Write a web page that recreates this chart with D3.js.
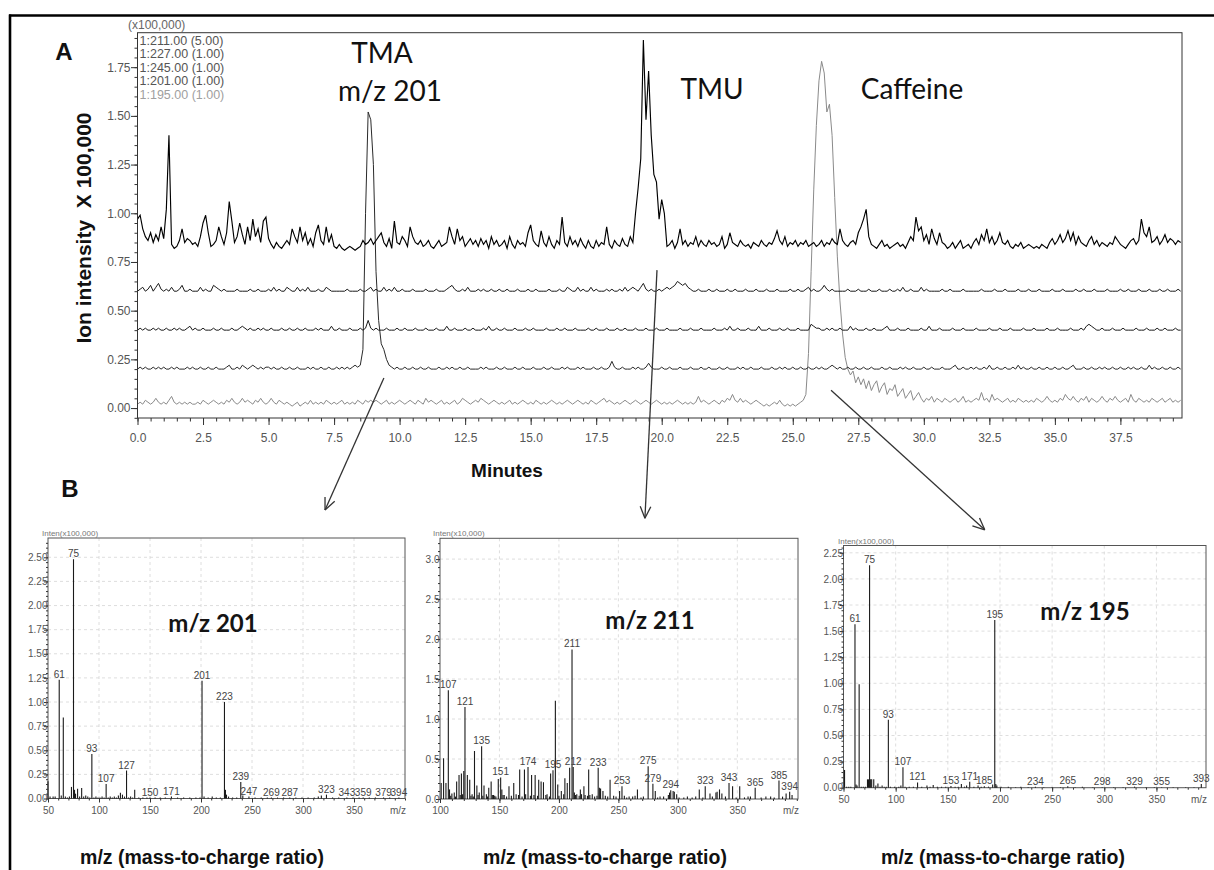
<!DOCTYPE html>
<html><head><meta charset="utf-8">
<script src="https://cdn.jsdelivr.net/npm/d3@7"></script>
<style>body{margin:0;background:#fff}svg text{font-family:"Liberation Sans",Arial,sans-serif}</style>
</head><body><svg id="c" width="1214" height="870"></svg>
<script>
// ---------- Panel A: chromatogram data (intensity in units of 1,000 counts; sampled every 0.1 min from 0) ----------
const chromStart = 0, chromStep = 0.1;
const trace211 = [
97,99,92,88,86,90,85,89,86,93, 87,102,140,84,82,83,86,92,85,87, 86,84,85,83,88,95,99,90,83,84,
86,93,88,84,90,106,96,85,88,95, 89,84,93,86,97,88,92,85,96,98, 87,84,82,85,83,82,84,86,84,92,
88,85,93,86,90,84,87,83,90,94, 86,84,93,85,89,83,82,84,82,81, 82,83,82,81,82,83,86,84,85,87,
84,86,88,90,85,83,87,82,96,85, 84,88,86,83,93,88,85,84,86,83, 84,86,83,82,84,86,83,84,85,93,
88,84,92,86,88,83,85,87,84,86, 83,87,84,86,82,88,84,86,83,84, 86,82,88,84,82,86,84,85,83,90,
94,86,84,83,91,85,83,88,84,82, 86,84,98,85,83,88,84,86,83,87, 84,82,86,83,82,86,83,85,84,93,
84,82,86,84,83,87,84,83,88,85, 100,113,128,189,148,173,140,120,116,97, 107,100,83,84,86,82,85,92,84,86,
83,85,84,88,83,86,84,83,86,84, 85,83,84,88,82,84,90,85,84,83, 86,84,83,84,82,85,84,83,86,84,
83,85,84,87,91,86,84,88,83,85, 84,86,83,85,84,86,83,84,85,83, 84,86,83,85,84,87,85,84,92,86,
84,83,85,86,84,90,93,97,102,88, 84,83,82,84,86,83,84,82,83,84, 85,83,84,82,85,88,86,98,91,93,
86,89,84,92,87,84,90,85,84,82, 83,85,82,84,86,82,83,84,82,85, 87,84,89,86,92,85,88,84,86,90,
85,84,86,83,82,84,83,85,82,83, 84,83,82,83,82,84,83,82,85,87, 84,86,89,85,87,91,86,90,84,88,
85,84,83,86,88,84,86,83,85,84, 83,85,84,88,86,84,83,82,84,86, 87,84,86,97,90,88,93,85,86,88,
84,86,89,85,87,86,84,86,85];
const trace227 = [
60,61,62,60,61,63,60,62,64,61, 60,61,60,62,60,60,61,63,60,60, 61,60,60,60,62,60,61,60,60,63,
62,61,60,61,60,60,60,60,61,60, 60,60,60,61,60,60,61,60,60,60, 61,60,62,60,61,60,60,62,61,60,
60,62,60,61,60,62,60,60,60,61, 60,60,62,61,60,60,60,60,60,60, 61,60,60,60,60,61,60,60,61,62,
60,61,60,60,62,60,61,60,62,60, 60,61,60,60,60,61,60,60,60,60, 61,60,60,60,61,60,60,60,61,62,
63,61,60,60,61,60,62,60,60,60, 61,60,61,60,60,61,60,60,61,60, 60,61,60,60,60,61,60,60,60,61,
60,60,61,60,60,60,60,61,60,60, 60,61,60,60,62,61,60,60,62,60, 61,60,60,62,60,61,60,60,60,61,
60,61,60,60,61,60,62,60,61,62, 61,60,62,64,61,60,61,60,60,61, 60,61,62,61,62,63,65,64,63,64,
62,61,60,60,61,60,60,60,61,60, 60,61,60,60,60,61,60,60,61,60, 60,60,61,60,60,60,61,60,60,60,
61,60,60,60,61,60,60,60,60,61, 60,60,61,60,60,61,62,60,61,60, 60,61,63,61,60,61,60,60,60,60,
60,61,60,60,60,61,60,60,60,61, 60,60,60,61,60,60,60,61,60,60, 61,60,62,60,60,61,60,60,60,62,
60,61,60,60,60,60,60,61,60,60, 61,60,60,60,60,61,60,60,60,60, 60,60,61,60,60,60,60,61,60,60,
60,61,60,60,60,60,61,60,60,60, 61,60,60,60,61,60,60,60,60,61, 60,60,60,61,60,60,60,60,61,60,
60,61,60,60,60,61,60,60,60,60, 61,60,60,60,60,61,60,60,61,60, 60,60,61,60,60,60,61,60,60,60,
61,60,60,61,60,60,60,61,60];
const trace245 = [
40,41,40,41,40,40,41,40,41,40, 40,41,40,40,41,40,41,40,40,41, 42,40,41,40,40,41,40,40,40,41,
40,40,41,40,40,40,41,40,40,41, 42,41,40,41,40,40,41,40,41,40, 40,41,40,40,40,41,40,40,41,40,
40,41,40,40,41,40,40,40,41,40, 41,40,40,40,42,40,40,41,40,40, 40,41,40,40,40,41,40,41,45,41,
40,41,40,40,40,41,40,40,40,41, 40,40,41,40,40,40,41,40,40,40, 41,40,40,40,41,40,40,40,42,40,
40,41,40,40,40,41,40,40,41,40, 40,40,41,40,42,40,40,41,40,40, 41,40,40,40,41,40,40,40,41,40,
40,41,40,40,40,40,41,40,40,40, 41,40,40,41,40,40,40,41,40,40, 40,40,41,40,40,41,40,40,40,41,
40,40,40,41,40,40,41,40,40,40, 41,40,40,40,41,40,40,40,41,40, 40,40,41,40,40,40,40,41,40,40,
40,41,40,40,40,41,40,40,40,40, 41,40,40,40,41,40,42,40,40,41, 40,40,40,41,40,40,40,42,40,40,
40,41,40,40,40,41,40,40,41,40, 40,40,41,40,40,40,40,43,42,41, 41,40,40,41,40,41,40,40,41,40,
40,40,42,40,41,40,40,40,41,40, 40,41,40,40,40,41,42,40,40,40, 41,40,40,40,41,40,40,40,40,41,
40,40,42,40,40,40,41,40,40,40, 40,41,40,40,40,41,40,40,40,40, 41,40,40,40,40,41,40,40,40,41,
40,40,40,41,40,40,40,40,41,40, 40,40,41,40,40,40,40,41,40,40, 40,41,40,40,40,40,41,40,40,40,
41,40,42,43,42,41,40,40,41,40, 40,40,41,40,40,40,41,40,40,40, 40,41,40,40,40,41,40,40,40,41,
40,40,41,40,40,40,41,40,40];
const trace201 = [
20,21,20,21,20,20,21,20,21,20, 21,20,20,21,20,21,20,20,20,21, 20,21,20,20,21,20,20,21,20,20,
21,20,20,20,21,22,20,20,21,20, 22,21,20,21,22,21,20,21,20,21, 21,20,21,20,20,21,20,20,21,20,
20,21,20,20,20,21,20,21,20,20, 21,20,20,21,20,20,21,20,21,20, 21,20,21,22,21,22,30,100,152,148,
125,70,45,33,30,25,22,21,20,21, 20,20,21,20,20,21,20,20,21,20, 20,21,20,20,20,21,20,20,21,20,
21,20,20,21,20,20,21,20,20,20, 20,21,20,21,20,20,20,21,20,20, 21,20,20,20,21,20,20,21,20,20,
20,21,20,20,20,21,20,20,21,20, 20,20,21,20,21,20,20,20,21,20, 21,20,20,20,21,20,20,21,20,20,
21,24,21,20,20,21,20,20,20,21, 20,21,20,20,21,23,21,20,20,20, 21,20,20,21,20,20,20,21,20,20,
20,21,20,20,20,21,20,20,21,20, 20,20,21,20,20,21,20,20,20,21, 20,21,20,20,21,20,20,20,21,20,
20,20,21,20,20,21,20,21,20,20, 21,20,20,21,20,20,21,20,20,21, 20,21,20,20,21,22,21,20,21,20,
20,21,20,20,21,20,20,21,20,20, 21,20,20,20,21,20,20,21,20,20, 20,21,20,21,20,20,21,20,20,20,
21,20,20,21,20,20,20,21,20,20, 20,21,22,20,20,21,20,20,21,20, 21,20,20,21,20,22,20,20,21,20,
20,21,20,20,21,20,22,20,21,20, 20,21,20,20,21,20,20,21,20,20, 21,20,20,21,20,20,21,22,20,20,
20,21,20,20,21,20,20,21,20,21, 20,20,21,20,20,21,20,20,21,20, 21,20,20,21,20,20,22,20,21,20,
20,21,20,20,21,20,20,21,20];
const trace195 = [
2,3,2,4,3,2,3,5,3,2, 3,2,4,6,3,2,3,2,3,2, 3,2,2,3,2,4,3,2,3,4,
3,2,3,2,4,3,5,3,2,3, 5,3,4,3,2,4,3,5,3,2, 3,5,3,2,4,3,2,3,2,1,
2,3,1,2,3,2,4,2,3,2, 3,2,4,3,2,3,2,3,4,2, 3,2,3,2,4,3,2,4,3,4,
3,4,3,2,3,4,2,3,2,3, 4,3,2,3,4,3,2,4,3,2, 5,3,4,3,2,3,4,2,3,2,
3,4,2,3,5,4,3,2,3,4, 3,5,4,3,2,3,4,3,2,3, 2,3,4,2,3,2,3,4,3,2,
3,2,4,3,2,3,2,3,4,3, 2,3,2,3,4,3,2,3,4,3, 2,3,2,4,3,2,3,4,5,3,
4,3,2,3,2,3,4,3,2,3, 4,3,2,3,4,3,2,3,4,3, 2,3,2,3,2,3,4,3,2,3,
2,3,2,3,6,3,4,3,2,3, 4,3,2,4,3,5,4,7,4,3, 5,3,4,3,2,3,4,3,2,1,
2,1,2,3,2,4,2,1,2,1, 2,1,2,3,4,7,28,70,112,145, 168,178,172,152,156,140,108,78,55,38,
26,20,17,19,13,16,12,15,10,14, 9,12,14,8,11,13,7,10,9,12, 6,8,10,5,7,9,4,6,8,5,
3,5,4,6,3,5,4,3,5,4, 3,4,5,3,4,6,3,4,3,4, 5,4,8,4,5,3,7,4,5,4,
3,4,5,3,4,3,5,4,3,4, 3,4,3,5,4,3,4,6,4,3, 4,3,5,4,7,5,4,6,4,3,
5,4,6,3,5,4,3,4,6,4, 3,5,4,6,4,3,4,5,3,7, 4,3,5,4,3,4,3,5,4,3,
4,5,3,4,5,3,4,3,4];
const chromLegend = ["1:211.00 (5.00)", "1:227.00 (1.00)", "1:245.00 (1.00)", "1:201.00 (1.00)", "1:195.00 (1.00)"];
const chromXTicks = [0, 2.5, 5, 7.5, 10, 12.5, 15, 17.5, 20, 22.5, 25, 27.5, 30, 32.5, 35, 37.5];
const chromYTicks = [0, 0.25, 0.5, 0.75, 1.0, 1.25, 1.5, 1.75];
const peakNames = ["TMA", "m/z 201", "TMU", "Caffeine"];

// ---------- Panel B: mass spectra ----------
const spec201Mz = [50,52,55,57,61,63,65,67,69,71, 73,75,76,77,79,81,83,85,87,89, 91,93,95,97,99,101,103,105,107,109,
 111,113,115,117,119,121,123,125,127,129, 131,133,135,139,143,147,150,155,160,165, 171,177,183,189,195,199,201,203,207,211,
 215,219,223,224,225,227,231,235,239,241, 247,253,259,265,269,275,281,287,293,299, 305,311,315,318,323,329,335,343,349,355,
 359,365,371,379,385,394];
const spec201Int = [0.18,0.02,0.02,0.02,1.23,0.03,0.84,0.02,0.01,0.02, 0.12,2.48,0.09,0.05,0.10,0.02,0.11,0.02,0.03,0.02,
 0.01,0.46,0.01,0.02,0.01,0.01,0.02,0.01,0.15,0.01, 0.02,0.01,0.02,0.01,0.03,0.06,0.04,0.02,0.29,0.01,
 0.02,0.01,0.09,0.01,0.01,0.01,0.01,0.01,0.01,0.01, 0.02,0.01,0.01,0.01,0.01,0.01,1.22,0.02,0.01,0.02,
 0.01,0.01,1.00,0.09,0.04,0.02,0.01,0.01,0.17,0.03, 0.02,0.01,0.01,0.01,0.01,0.01,0.01,0.01,0.01,0.01,
 0.01,0.01,0.02,0.03,0.04,0.01,0.01,0.01,0.01,0.01, 0.01,0.01,0.01,0.01,0.01,0.01];
const spec201Labels = [61,75,93,107,127,150,171,201,223,239,247,269,287,323,343,359,379,394];

const spec211Mz = [101,103,105,107,108,110,112,114,116,118, 120,121,123,125,127,129,131,133,135,137,
 139,141,143,145,149,151,152,154,158,162, 164,167,171,174,177,180,183,185,187,190,
 193,195,197,199,202,205,207,209,211,212, 215,218,221,222,225,228,233,234,237,243,
 246,251,253,259,266,275,279,281,285,294, 296,299,308,318,323,327,332,335,343,346,
 352,361,365,378,385,391,394,396,
 109,113,117,119,126,128,132,136,140,144, 146,147,153,156,160,166,169,172,176,179,
 182,189,192,200,204,213,214,217,219,224, 226,230,232,235,239,241,248,255,257,262,
 264,269,271,283,288,292,293,297,301,305, 312,315,321,329,333,337,340,349,356,359, 370,374,381,388];
const spec211Int = [0.20,0.51,0.20,1.36,0.12,0.07,0.08,0.22,0.30,0.32, 0.35,1.15,0.30,0.24,0.06,0.60,0.17,0.08,0.66,0.17,
 0.06,0.14,0.22,0.05,0.25,0.27,0.12,0.05,0.16,0.20, 0.06,0.37,0.37,0.40,0.30,0.30,0.24,0.22,0.21,0.06,
 0.32,0.36,1.23,0.18,0.10,0.26,0.20,0.39,1.87,0.40, 0.06,0.12,0.16,0.05,0.37,0.06,0.39,0.14,0.10,0.24,
 0.04,0.10,0.16,0.03,0.12,0.41,0.19,0.10,0.03,0.11, 0.10,0.06,0.03,0.12,0.16,0.07,0.08,0.12,0.20,0.16,
 0.16,0.03,0.14,0.03,0.23,0.07,0.09,0.05,
 0.04,0.03,0.05,0.06,0.04,0.03,0.05,0.04,0.03,0.05, 0.04,0.03,0.05,0.03,0.04,0.05,0.03,0.06,0.04,0.05,
 0.04,0.05,0.03,0.04,0.06,0.08,0.05,0.04,0.06,0.04, 0.05,0.03,0.04,0.13,0.04,0.03,0.03,0.04,0.02,0.03,
 0.04,0.02,0.03,0.02,0.03,0.05,0.08,0.09,0.02,0.02, 0.02,0.03,0.02,0.03,0.09,0.07,0.03,0.02,0.02,0.03, 0.02,0.03,0.02,0.03];
const spec211Labels = [107,121,135,151,174,195,211,212,233,253,275,279,294,323,343,365,385,394];

const spec195Mz = [51,53,55,57,61,62,63,65,67,69, 71,73,74,75,76,77,79,81,83,85, 87,89,91,93,95,99,103,105,107,109,
 113,117,121,125,130,133,136,140,144,148, 153,157,160,163,166,168,171,175,179,182, 185,189,193,195,196,197,201,208,215,220,
 227,234,242,250,258,265,272,279,289,298, 309,318,329,340,348,355,366,378,386,393];
const spec195Int = [0.17,0.01,0.01,0.01,1.565,0.03,0.02,0.99,0.01,0.01, 0.01,0.08,0.08,2.13,0.08,0.08,0.08,0.02,0.04,0.01,
 0.02,0.01,0.01,0.65,0.01,0.01,0.01,0.02,0.195,0.01, 0.01,0.01,0.05,0.01,0.02,0.01,0.026,0.01,0.01,0.01,
 0.016,0.01,0.01,0.035,0.01,0.02,0.058,0.01,0.02,0.01, 0.015,0.01,0.03,1.607,0.035,0.02,0.01,0.01,0.005,0.01,
 0.005,0.01,0.005,0.005,0.005,0.015,0.005,0.01,0.005,0.005, 0.005,0.005,0.01,0.005,0.005,0.005,0.005,0.005,0.005,0.035];
const spec195Labels = [61,75,93,107,121,153,171,185,195,234,265,298,329,355,393];

const specXTicks50 = [50,100,150,200,250,300,350];
const specXTicks100 = [100,150,200,250,300,350];
const specYTicksQ = [0,0.25,0.5,0.75,1.0,1.25,1.5,1.75,2.0,2.25,2.5];
const specYTicksH = [0,0.5,1.0,1.5,2.0,2.5,3.0];
const specYTicks195 = [0,0.25,0.5,0.75,1.0,1.25,1.5,1.75,2.0,2.25];
const specTitles = ["m/z 201", "m/z 211", "m/z 195"];
const specUnits = ["Inten(x100,000)", "Inten(x10,000)", "Inten(x100,000)"];

// arrows: start (minutes, intensity x100,000) in panel A -> end (panel, m/z, intensity) above spectrum
const arrowStarts = [[9.40, 0.154], [19.82, 0.708], [26.46, 0.092]];
const arrowEnds = [[0, 321.6, 2.99], [1, 272.3, 3.51], [2, 185.4, 2.47]];

// ---------------- drawing ----------------
const svg = d3.select("#c");
const LATO = 'Lato, "Open Sans", sans-serif';

// outer frame
svg.append("line").attr("x1", 9).attr("x2", 1214).attr("y1", 15.5).attr("y2", 15.5).attr("stroke", "#000").attr("stroke-width", 2.6);
svg.append("line").attr("x1", 10).attr("x2", 10).attr("y1", 14.5).attr("y2", 870).attr("stroke", "#000").attr("stroke-width", 2.6);

// ---- Panel A ----
const A = {left: 137.5, right: 1182, top: 32.7, bottom: 418};
const xA = d3.scaleLinear().domain([0, 39.85]).range([A.left, A.right]);
const yA = d3.scaleLinear().domain([-0.051, 1.927]).range([A.bottom, A.top]);
const gA = svg.append("g");

const traceList = [
  {vals: trace211, color: "#000", w: 1.15},
  {vals: trace227, color: "#1a1a1a", w: 1},
  {vals: trace245, color: "#1a1a1a", w: 1},
  {vals: trace201, color: "#2a2a2a", w: 1},
  {vals: trace195, color: "#8a8a8a", w: 1}
];
const lineGen = d3.line().x((d, i) => xA(chromStart + i * chromStep)).y(d => yA(d / 100));
gA.append("clipPath").attr("id", "clipA").append("rect")
  .attr("x", A.left).attr("y", A.top).attr("width", A.right - A.left).attr("height", A.bottom - A.top);
const gTr = gA.append("g").attr("clip-path", "url(#clipA)");
traceList.slice().reverse().forEach(t => {
  gTr.append("path").attr("d", lineGen(t.vals)).attr("fill", "none")
    .attr("stroke", t.color).attr("stroke-width", t.w).attr("stroke-linejoin", "miter");
});

// box
gA.append("rect").attr("x", A.left).attr("y", A.top).attr("width", A.right - A.left).attr("height", A.bottom - A.top)
  .attr("fill", "none").attr("stroke", "#333").attr("stroke-width", 1);

function styleAxis(sel, size, color) {
  sel.select(".domain").remove();
  sel.selectAll("line").attr("stroke", "#333");
  sel.selectAll("text").attr("fill", color).style("font-size", size + "px");
}
const minorX = d3.range(0, 39.85, 0.5);
gA.append("g").attr("transform", `translate(0,${A.bottom})`)
  .call(d3.axisBottom(xA).tickValues(minorX).tickSize(3.5).tickFormat("")).call(s => styleAxis(s, 12, "#555"));
gA.append("g").attr("transform", `translate(0,${A.bottom})`)
  .call(d3.axisBottom(xA).tickValues(chromXTicks).tickSize(7).tickPadding(8).tickFormat(d3.format(".1f")))
  .call(s => styleAxis(s, 12, "#555"));
const minorY = d3.range(-0.05, 1.926, 0.05);
gA.append("g").attr("transform", `translate(${A.left},0)`)
  .call(d3.axisLeft(yA).tickValues(minorY).tickSize(3).tickFormat("")).call(s => styleAxis(s, 12, "#555"));
gA.append("g").attr("transform", `translate(${A.left},0)`)
  .call(d3.axisLeft(yA).tickValues(chromYTicks).tickSize(6.5).tickPadding(0.5).tickFormat(d3.format(".2f")))
  .call(s => styleAxis(s, 12, "#555"));

gA.append("text").attr("x", 128).attr("y", 29).attr("fill", "#666").style("font-size", "12px").text("(x100,000)");
chromLegend.forEach((t, i) => {
  gA.append("text").attr("x", 139.5).attr("y", 44.5 + i * 13.5)
    .attr("fill", i === 4 ? "#a0a0a0" : "#555").style("font-size", "12.5px").text(t);
});

svg.append("text").attr("x", 64).attr("y", 59.5).attr("text-anchor", "middle")
  .style("font-weight", "bold").style("font-size", "24px").attr("fill", "#111").text("A");
svg.append("text").attr("x", 70).attr("y", 497).attr("text-anchor", "middle")
  .style("font-weight", "bold").style("font-size", "24px").attr("fill", "#111").text("B");

const peakPos = [[382, 63], [390, 101], [712, 99], [912, 99]];
peakNames.forEach((n, i) => {
  svg.append("text").attr("x", peakPos[i][0]).attr("y", peakPos[i][1]).attr("text-anchor", "middle")
    .style("font-family", LATO).style("font-size", "28px").attr("fill", "#111").text(n);
});

svg.append("text").attr("transform", "translate(91,228) rotate(-90)").attr("text-anchor", "middle")
  .style("font-weight", "bold").style("font-size", "21px").style("white-space", "pre").attr("fill", "#111")
  .text("Ion intensity  X 100,000");
svg.append("text").attr("x", 507).attr("y", 477).attr("text-anchor", "middle")
  .style("font-weight", "bold").style("font-size", "19px").attr("fill", "#111").text("Minutes");

// ---- Panel B ----
const specPanels = [
  {mz: spec201Mz, inten: spec201Int, labels: spec201Labels, xDomain: [50, 400], left: 48, right: 405,
   yDomain: [0, 2.70], top: 538, bottom: 798.5, yTicks: specYTicksQ, yMinor: 0.05, yFmt: ".2f", xTicks: specXTicks50,
   title: [213, 631.5], unitX: 42, axisTitleX: 202},
  {mz: spec211Mz, inten: spec211Int, labels: spec211Labels, xDomain: [100, 401], left: 440, right: 798,
   yDomain: [0, 3.26], top: 538.3, bottom: 799, yTicks: specYTicksH, yMinor: 0.1, yFmt: ".1f", xTicks: specXTicks100,
   title: [650, 628.5], unitX: 433, axisTitleX: 605},
  {mz: spec195Mz, inten: spec195Int, labels: spec195Labels, xDomain: [50, 397.5], left: 843.5, right: 1206,
   yDomain: [0, 2.32], top: 545.5, bottom: 787.7, yTicks: specYTicks195, yMinor: 0.05, yFmt: ".2f", xTicks: specXTicks50,
   title: [1085, 620], unitX: 838, axisTitleX: 1003}
];
const specScales = [];
specPanels.forEach((p, k) => {
  const x = d3.scaleLinear().domain(p.xDomain).range([p.left, p.right]);
  const y = d3.scaleLinear().domain(p.yDomain).range([p.bottom, p.top]);
  specScales.push({x, y});
  const g = svg.append("g");
  g.selectAll(".vg").data(p.xTicks.filter(v => v > p.xDomain[0])).join("line")
    .attr("x1", d => x(d)).attr("x2", d => x(d)).attr("y1", p.top).attr("y2", p.bottom)
    .attr("stroke", "#d6d6d6").attr("stroke-dasharray", "3,3").attr("stroke-width", 0.8);
  g.selectAll(".hg").data(p.yTicks.filter(v => v > 0)).join("line")
    .attr("x1", p.left).attr("x2", p.right).attr("y1", d => y(d)).attr("y2", d => y(d))
    .attr("stroke", "#d6d6d6").attr("stroke-dasharray", "3,3").attr("stroke-width", 0.8);
  g.append("rect").attr("x", p.left).attr("y", p.top).attr("width", p.right - p.left).attr("height", p.bottom - p.top)
    .attr("fill", "none").attr("stroke", "#555").attr("stroke-width", 1);
  g.selectAll(".bar").data(p.mz).join("line")
    .attr("x1", d => x(d)).attr("x2", d => x(d)).attr("y1", y(0)).attr("y2", (d, i) => y(p.inten[i]))
    .attr("stroke", "#1a1a1a").attr("stroke-width", 1.1);
  g.selectAll(".pl").data(p.labels).join("text")
    .attr("x", d => x(d)).attr("y", d => y(p.inten[p.mz.indexOf(d)]) - 2)
    .attr("text-anchor", "middle").attr("fill", "#444").style("font-size", "10px").text(d => d);
  const minorMz = d3.range(p.xDomain[0], p.xDomain[1] + 0.1, 10);
  g.append("g").attr("transform", `translate(0,${p.bottom})`)
    .call(d3.axisBottom(x).tickValues(minorMz).tickSize(2).tickFormat("")).call(s => styleAxis(s, 10, "#555"));
  g.append("g").attr("transform", `translate(0,${p.bottom})`)
    .call(d3.axisBottom(x).tickValues(p.xTicks).tickSize(4).tickPadding(4).tickFormat(d3.format("d")))
    .call(s => styleAxis(s, 10, "#555"));
  g.append("text").attr("x", p.right + 1).attr("y", p.bottom + 15).attr("text-anchor", "end")
    .attr("fill", "#555").style("font-size", "10px").text("m/z");
  const minorI = d3.range(0, p.yDomain[1], p.yMinor);
  g.append("g").attr("transform", `translate(${p.left},0)`)
    .call(d3.axisLeft(y).tickValues(minorI).tickSize(2).tickFormat("")).call(s => styleAxis(s, 10, "#555"));
  g.append("g").attr("transform", `translate(${p.left},0)`)
    .call(d3.axisLeft(y).tickValues(p.yTicks).tickSize(4).tickPadding(-3.5).tickFormat(d3.format(p.yFmt)))
    .call(s => styleAxis(s, 10, "#555"));
  g.append("text").attr("x", p.unitX).attr("y", p.top - 2).attr("fill", "#777").style("font-size", "8px").text(specUnits[k]);
  g.append("text").attr("x", p.title[0]).attr("y", p.title[1]).attr("text-anchor", "middle")
    .style("font-family", LATO).style("font-weight", "bold").style("font-size", "24px").attr("fill", "#141414").text(specTitles[k]);
  svg.append("text").attr("x", p.axisTitleX).attr("y", 864).attr("text-anchor", "middle")
    .style("font-weight", "bold").style("font-size", "19.5px").attr("fill", "#111").text("m/z (mass-to-charge ratio)");
});

arrowStarts.forEach((s, i) => {
  const e = arrowEnds[i];
  const x1 = xA(s[0]), y1 = yA(s[1]);
  const x2 = specScales[e[0]].x(e[1]), y2 = specScales[e[0]].y(e[2]);
  const ang = Math.atan2(y2 - y1, x2 - x1), L = 13, spread = 0.42;
  const ga = svg.append("g").attr("stroke", "#333").attr("stroke-width", 1.3).attr("fill", "none");
  ga.append("line").attr("x1", x1).attr("y1", y1).attr("x2", x2).attr("y2", y2);
  [1, -1].forEach(sg => {
    ga.append("line").attr("x1", x2).attr("y1", y2)
      .attr("x2", x2 - L * Math.cos(ang + sg * spread)).attr("y2", y2 - L * Math.sin(ang + sg * spread));
  });
});
</script></body></html>
